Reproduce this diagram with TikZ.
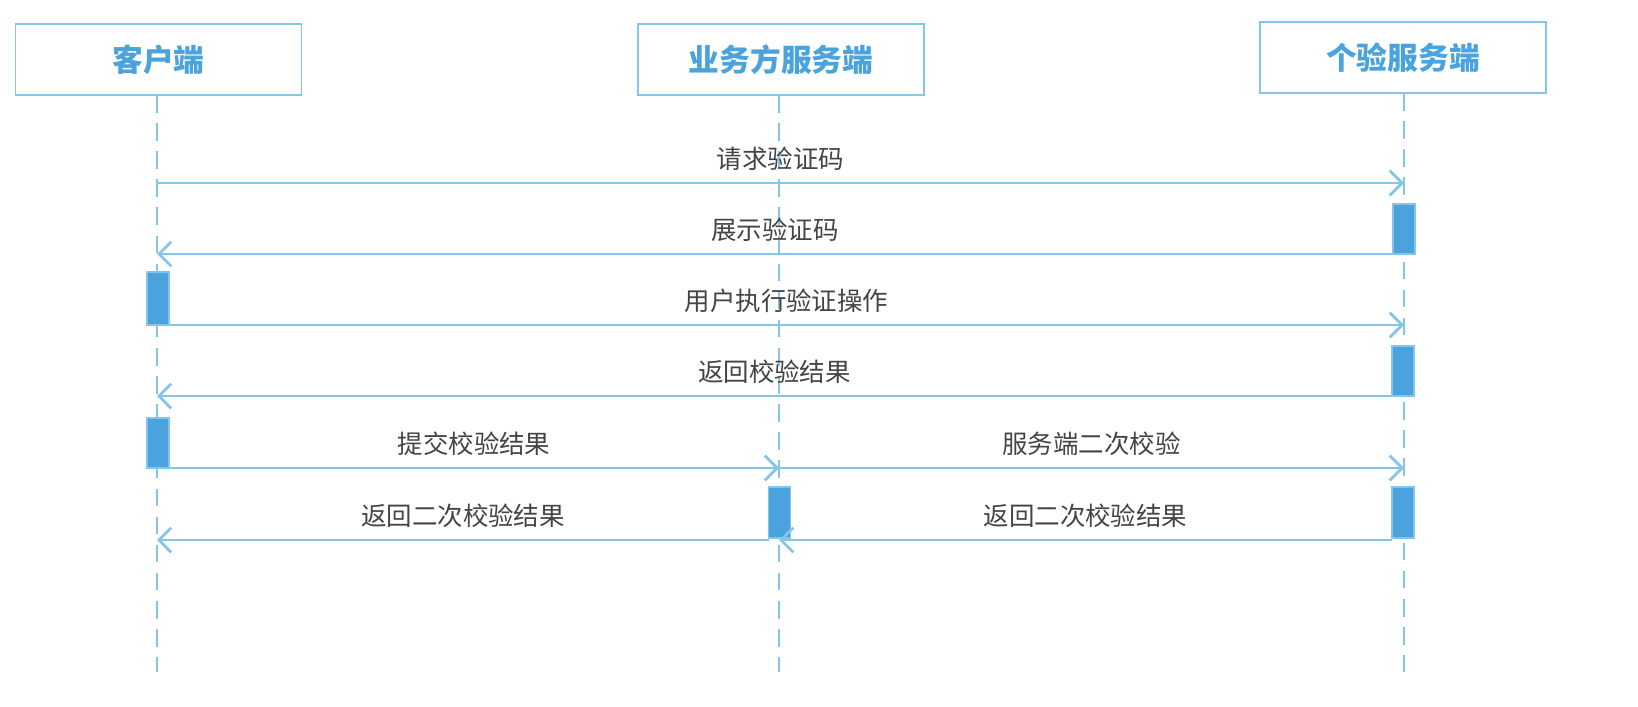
\documentclass[tikz,border=0pt]{standalone}
\usepackage{fontspec}
\setmainfont{Noto Sans CJK SC}
\usetikzlibrary{arrows.meta}
\definecolor{lineblue}{HTML}{85C5EA}
\definecolor{actblue}{HTML}{4AA3DC}
\definecolor{msggray}{HTML}{444444}
\begin{document}
\begin{tikzpicture}[x=0.02cm,y=-0.02cm]
    \tikzstyle{actor} = [draw=lineblue, line width=1pt, minimum width=5.72cm, minimum height=1.42cm, text=actblue, font=\fontsize{17.5}{20}\selectfont\bfseries]
    \tikzstyle{life} = [lineblue, line width=1.6pt, dash pattern=on 10pt off 6pt]
    \tikzstyle{act} = [draw=lineblue, fill=actblue, line width=0.8pt, minimum width=0.44cm, inner sep=0pt]
    \tikzstyle{msg} = [lineblue, line width=1.6pt, -{Straight Barb[length=7pt,width=14pt]}]
    \tikzstyle{lbl} = [text=msggray, font=\fontsize{14.5}{16}\selectfont]
    \useasboundingbox (0,0) rectangle (1638,706);
    % participants
    \node[actor] (client) at (158.5,59.5) {客户端};
    \node[actor] (biz) at (781,59.5) {业务方服务端};
    \node[actor] (geyan) at (1403,57.5) {个验服务端};
    \draw[life] (157,95) -- (157,672);
    \draw[life] (779,95) -- (779,672);
    \draw[life] (1404,93) -- (1404,672);
    % activations
    \node[act, minimum height=1.0cm] (a1) at (1404,229) {};
    \node[act, minimum height=1.06cm] (a2) at (158,298.5) {};
    \node[act, minimum height=1.0cm] (a3) at (1403,371) {};
    \node[act, minimum height=1.0cm] (a4) at (158,443) {};
    \node[act, minimum height=1.02cm] (a5) at (779.5,512.5) {};
    \node[act, minimum height=1.02cm] (a6) at (1403,512.5) {};
    % messages
    \coordinate (c1) at (157,183); \coordinate (g1) at (1404,183);
    \coordinate (c2) at (157,254); \coordinate (g2) at (1393,254);
    \coordinate (c3) at (169,325); \coordinate (g3) at (1404,325);
    \coordinate (c4) at (157,396); \coordinate (g4) at (1392,396);
    \coordinate (c5) at (169,468); \coordinate (b5) at (779,468); \coordinate (g5) at (1404,468);
    \coordinate (c6) at (157,540); \coordinate (b6) at (769,540); \coordinate (b6r) at (779,540); \coordinate (g6) at (1392,540);
    \draw[msg] (c1) -- node[lbl, above=3pt] {请求验证码} (g1);
    \draw[msg] (g2) -- node[lbl, above=3pt] {展示验证码} (c2);
    \draw[msg] (c3) -- node[lbl, above=3pt] {用户执行验证操作} (g3);
    \draw[msg] (g4) -- node[lbl, above=3pt] {返回校验结果} (c4);
    \draw[msg] (c5) -- node[lbl, above=3pt] {提交校验结果} (b5);
    \draw[msg] (b5) -- node[lbl, above=3pt] {服务端二次校验} (g5);
    \draw[msg] (b6) -- node[lbl, above=3pt] {返回二次校验结果} (c6);
    \draw[msg] (g6) -- node[lbl, above=3pt] {返回二次校验结果} (b6r);
\end{tikzpicture}
\end{document}
